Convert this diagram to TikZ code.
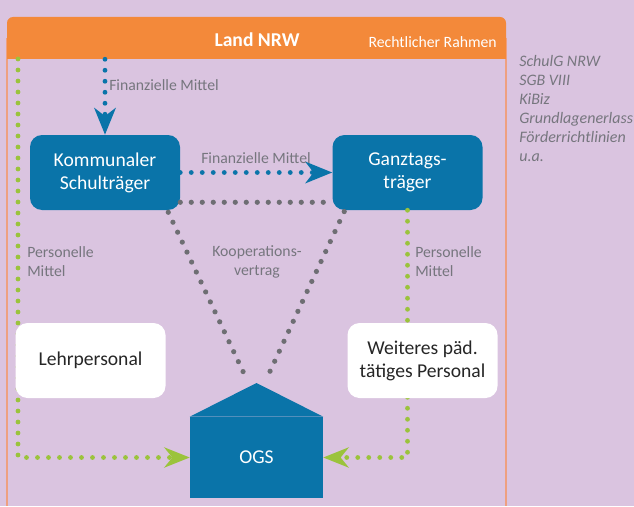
\documentclass[tikz,border=0pt]{standalone}
\usepackage{fontspec}
\setmainfont{Carlito}
\usetikzlibrary{arrows.meta}
\definecolor{lavender}{RGB}{218,196,224}
\definecolor{nrworange}{RGB}{243,137,58}
\definecolor{framered}{RGB}{238,160,128}
\definecolor{ogsblue}{RGB}{10,116,169}
\definecolor{flowgreen}{RGB}{155,195,60}
\definecolor{dotgray}{RGB}{110,110,115}
\definecolor{labelgray}{RGB}{118,118,126}
\tikzset{
  bluebox/.style={rounded corners=9pt, fill=ogsblue, text=white, minimum width=112.5pt,
    minimum height=56.25pt, align=center, font=\fontsize{14.7}{17.3}\selectfont},
  whitebox/.style={bluebox, fill=white, text=black!85},
  lbl/.style={text=labelgray, font=\fontsize{11.8}{14.25}\selectfont, inner sep=0pt},
  dots/.style={line width=3.6pt, line cap=round, dash pattern=on 0pt off 8.25pt},
  blueflow/.style={dots, ogsblue, -{Stealth[length=20pt,width=16pt,inset=6pt]}},
  greenflow/.style={dots, flowgreen, -{Stealth[length=19pt,width=15pt,inset=6pt]}},
  grayflow/.style={dots, dotgray, line width=3.9pt}
}
\begin{document}
\begin{tikzpicture}[x=0.75pt,y=-0.75pt]
\fill[lavender] (0,0) rectangle (634,506);
\useasboundingbox (0,0) rectangle (634,506);
% Rahmen
\node[fill=nrworange, rounded corners=4.5pt, minimum width=374.25pt, minimum height=31.5pt,
  inner sep=0pt] (land) at (256.5,38) {};
\draw[framered, line width=1.2pt] (land.west) -- (land.west |- 0,506)
  (land.east) -- (land.east |- 0,506);
\fill[nrworange] (land.west) rectangle (land.south east);
\node[text=white, font=\fontsize{14.7}{17}\bfseries] at (257,40) {Land NRW};
\node[text=white, font=\fontsize{11.8}{14}\selectfont, anchor=east, inner sep=0pt] at (497,42) {Rechtlicher Rahmen};
\node[text=labelgray, font=\fontsize{12}{14.25}\itshape, align=left, anchor=west, inner sep=0pt]
  at (519,108.5) {SchulG NRW\\SGB VIII\\KiBiz\\Grundlagenerlass\\Förderrichtlinien\\u.a.};
% Traeger und OGS
\node[bluebox] (ks) at (105,172.5) {Kommunaler\\Schulträger};
\node[bluebox] (gt) at (407.5,172.5) {Ganztags-\\träger};
\node[fill=ogsblue, minimum width=99.75pt, minimum height=60.75pt, inner sep=0pt,
  text=white, font=\fontsize{14.7}{17}\selectfont] (ogs) at (256.5,457.5) {OGS};
\coordinate (roof) at (256.5,383);
\fill[ogsblue] (ogs.north west) -- (roof) -- (ogs.north east) -- cycle;
\coordinate (gl) at (18,59);
% Verbindungen
\draw[greenflow] (gl) |- (ogs.west);
\draw[greenflow] (gt.south) |- (ogs.east);
\draw[blueflow] (land.south -| ks.north) -- (ks.north);
\draw[blueflow] (ks.east) -- (gt.west);
\draw[grayflow] ([yshift=6pt]ks.south east) -- ([yshift=6pt]gt.south west);
\draw[grayflow] ([xshift=-9pt,yshift=-1.5pt]ks.south east) -- ([xshift=-7pt,yshift=2pt]roof);
\draw[grayflow] ([xshift=9pt,yshift=-1pt]gt.south west) -- ([xshift=7pt,yshift=2pt]roof);
% Personal
\node[whitebox] (lp) at (90.5,360.5) {Lehrpersonal};
\node[whitebox] (wp) at (422.5,360.5) {Weiteres päd.\\tätiges Personal};
% Beschriftungen
\node[lbl, anchor=west] at (109,85) {Finanzielle Mittel};
\node[lbl] at (256,158) {Finanzielle Mittel};
\node[lbl, align=center] at (257,262) {Kooperations-\\vertrag};
\node[lbl, align=left, anchor=west] at (27,262) {Personelle\\Mittel};
\node[lbl, align=left, anchor=west] at (415,262) {Personelle\\Mittel};
\end{tikzpicture}
\end{document}
